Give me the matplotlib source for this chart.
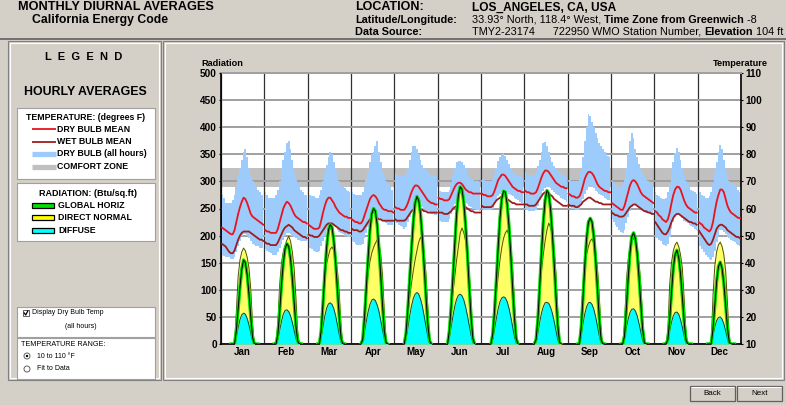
import numpy as np
import matplotlib
matplotlib.use("Agg")
import matplotlib.pyplot as plt
from matplotlib.patches import Rectangle, Ellipse
from matplotlib.lines import Line2D

plt.rcParams['font.family'] = ['Liberation Sans', 'DejaVu Sans']

# ---- data ----
months = ["Jan", "Feb", "Mar", "Apr", "May", "Jun",
          "Jul", "Aug", "Sep", "Oct", "Nov", "Dec"]
hours = np.arange(24)

# hourly dry bulb mean, deg F
dry_bulb_mean = [
    [53, 52.5, 52, 51.5, 51, 50.5, 50.5, 52, 55, 58, 60.5, 62.5, 64, 63.5, 62, 60, 58, 57, 56.5, 56, 55.5, 55, 54.5, 54],
    [52, 51.5, 51.5, 51, 51, 51, 51, 52.5, 55, 57.5, 60, 61.5, 62.5, 62, 61, 59.5, 58, 57, 56.5, 56, 55.5, 55, 55, 54.5],
    [54, 53.5, 53, 52.5, 52.5, 52.5, 53, 55.5, 58.5, 61, 63, 64, 64, 63, 62, 60.5, 59.5, 58.5, 58, 57.5, 57, 57, 56.5, 56.5],
    [56, 55.5, 55, 55, 54.5, 54.5, 55.5, 57.5, 59.5, 61.5, 63.5, 64.5, 65, 64.5, 63.5, 62, 61, 60, 59.5, 59.5, 59, 59, 59, 58.5],
    [60.5, 60, 60, 59.5, 59.5, 59.5, 60.5, 62, 64, 66, 67.5, 68.5, 68.5, 68, 67, 66, 65, 64, 63, 62.5, 62, 62, 61.5, 61.5],
    [64, 63.5, 63.5, 63, 63, 63, 63.5, 65, 66.5, 68, 69, 69.5, 69.5, 69, 68, 67, 66.5, 66, 66, 65.5, 65.5, 65.5, 65.5, 65.5],
    [65.5, 65, 65, 64.5, 64.5, 64.5, 65, 66.5, 68.5, 70.5, 71.5, 72.5, 72.5, 72, 71, 70, 69, 68, 67.5, 67, 66.5, 66.5, 66, 66],
    [66.5, 66, 66, 65.5, 65.5, 65.5, 66, 67.5, 69.5, 71.5, 73, 74, 74, 73.5, 72.5, 71.5, 70.5, 69.5, 69, 68.5, 68, 68, 67.5, 67.5],
    [65.5, 65, 64.5, 64.5, 64, 64, 64.5, 66, 68.5, 71, 72.5, 73.5, 73.5, 73, 72, 70.5, 69, 68, 67.5, 67, 66.5, 66.5, 66, 66],
    [62, 61.5, 61, 60.5, 60, 59.5, 59.5, 61, 63.5, 66, 68.5, 70, 70.5, 70, 69, 67.5, 66, 65, 64.5, 64, 63.5, 63, 62.5, 62],
    [59, 58.5, 57.5, 57, 56, 55.5, 55, 56, 58.5, 62, 65, 67, 68, 68, 67, 65, 63, 61.5, 60.5, 60, 59.5, 59, 58.5, 58.5],
    [55, 54.5, 54, 53, 52.5, 52, 51.5, 52.5, 55, 59, 62.5, 65, 67, 67, 66, 63.5, 61, 59.5, 58.5, 58, 57.5, 57, 56.5, 56.5],
]

# hourly wet bulb mean, deg F
wet_bulb_mean = [
    [47, 46.5, 46, 45, 44, 43.5, 43.5, 44.5, 46.5, 48.5, 50, 51, 51.5, 51.5, 51.5, 51.5, 51, 50.5, 50, 49.5, 49, 48.5, 48.5, 48],
    [47.5, 47, 47, 46.5, 46.5, 46.5, 46.5, 47.5, 49, 50.5, 52, 53, 53.5, 54, 53.5, 53, 52, 51.5, 51, 50.5, 50, 49.5, 49.5, 49],
    [50.5, 50, 50, 49.5, 49.5, 49.5, 50, 51, 52, 53, 54, 54.5, 54.5, 54.5, 54, 53.5, 53, 52.5, 52, 52, 51.5, 51.5, 51, 51],
    [52.5, 52, 52, 52, 51.5, 51.5, 52, 53, 54, 55, 56, 56.5, 56.5, 56.5, 56.5, 56, 56, 55.5, 55.5, 55.5, 55.5, 55.5, 55.5, 55.5],
    [56, 55.5, 55.5, 55.5, 55.5, 55.5, 56, 57, 58, 59, 59.5, 60, 60, 60, 59.5, 59.5, 59, 59, 58.5, 58.5, 58.5, 58.5, 58.5, 58.5],
    [58.5, 58.5, 58.5, 58, 58, 58, 58.5, 59, 60, 60.5, 61, 61.5, 61.5, 61.5, 61, 60.5, 60, 59.5, 59, 59, 58.5, 58.5, 58.5, 58.5],
    [61, 60.5, 60.5, 60.5, 60.5, 60.5, 61, 62, 63, 63.5, 64, 64.5, 64.5, 64, 63.5, 63, 62.5, 62, 62, 61.5, 61.5, 61.5, 61.5, 61.5],
    [61.5, 61.5, 61, 61, 61, 61, 61.5, 62.5, 63.5, 64.5, 65.5, 66, 66, 65.5, 65, 64.5, 63.5, 63, 62.5, 62, 61.5, 61, 61, 61],
    [61.5, 61, 61, 61, 60.5, 60.5, 61, 61.5, 62.5, 63, 63.5, 64, 64, 63.5, 63, 62.5, 62.5, 62, 62, 61.5, 61.5, 61.5, 61.5, 61.5],
    [58.5, 58, 57.5, 57.5, 57, 57, 57, 57.5, 58.5, 59.5, 60.5, 61, 61.5, 61.5, 61, 60.5, 60, 59.5, 59, 59, 58.5, 58.5, 58, 58],
    [55, 54, 53, 52, 51, 50.5, 50.5, 51.5, 53, 55, 56.5, 57.5, 58, 58, 57.5, 57, 56.5, 56, 55.5, 55, 55, 54.5, 54.5, 54],
    [52, 51, 50, 49, 48, 47, 46.5, 47, 48.5, 50.5, 52.5, 53.5, 54, 54, 53.5, 53, 52, 51.5, 51, 50.5, 50, 49.5, 49.5, 49],
]

# hourly dry bulb extremes over all hours of the month, deg F
dry_bulb_max = [
    [65, 64, 62, 62, 62, 62, 63, 65, 68, 72, 75, 78, 81, 82, 79, 75, 72, 70, 69, 68, 67, 66, 65, 64],
    [66, 65, 64, 64, 64, 64, 65, 67, 70, 74, 78, 81, 84, 85, 82, 78, 74, 71, 69, 68, 67, 66, 65, 65],
    [66, 65, 64.5, 64.5, 64, 64, 65, 67, 70, 73, 76, 79, 81, 80, 77, 74, 72, 70, 68.5, 68, 67.5, 67, 66.5, 66],
    [66, 65.5, 65, 65, 65, 65, 66, 68, 71, 74, 77, 80, 81, 83, 85, 81, 77, 74, 72, 70, 69, 68, 67, 66.5],
    [73, 72.5, 72, 72, 72, 72, 73, 75, 78, 81, 83, 83, 82, 80, 78, 76, 75, 74, 73.5, 73, 72.5, 72, 72, 71.5],
    [67, 66.5, 66, 66, 66, 66, 67, 69, 72, 75, 77, 77.5, 77.5, 77, 76, 75, 73.5, 72, 71, 70.5, 70, 70, 70, 69.5],
    [71, 70.5, 70, 70, 70, 70, 71, 73, 75, 77.5, 79, 80, 80.5, 79.5, 78, 76.5, 75, 74, 73, 72.5, 72, 72, 71.5, 71.5],
    [73.5, 73, 72.5, 72.5, 72.5, 72.5, 73.5, 75.5, 78, 81, 84, 84.5, 83, 81, 79, 77, 75.5, 74.5, 74, 73.5, 73, 72.5, 72, 71.5],
    [71, 70.5, 70, 70, 70, 70, 71, 74, 79, 85, 90, 95, 94, 92, 90, 88, 86, 84, 83, 82, 81, 80, 79.5, 79],
    [70, 69.5, 69, 68.5, 68, 68, 69, 71, 75, 80, 85, 88, 86, 82, 79, 76.5, 74.5, 73, 72, 71, 70, 69, 68.5, 68],
    [66, 65, 64.5, 64, 63.5, 63.5, 64, 66, 69, 73, 77, 80.5, 82.5, 81, 78, 75, 72, 70, 69, 68, 67, 66.5, 66, 65.5],
    [67, 66, 65, 64.5, 64, 64, 64.5, 66, 69, 73, 77, 81, 83.5, 82, 78, 74, 71, 70, 69.5, 69, 68.5, 68, 67, 66],
]
dry_bulb_min = [
    [43, 42.5, 42, 42, 42, 41.5, 41.5, 42, 44, 46, 48, 50, 50.5, 50.5, 50, 49, 48, 47, 46.5, 46, 46, 45.5, 45.5, 45.5],
    [45, 44.5, 44, 43.5, 43, 43, 43, 44, 45.5, 47, 48.5, 50, 51, 51, 50.5, 50, 49.5, 49, 48.5, 48.5, 48, 48, 48, 48],
    [46, 45.5, 45, 44.5, 44, 44, 44.5, 46, 48, 50, 52, 53, 54, 54, 53.5, 53, 52, 51.5, 51, 50.5, 50, 50, 49.5, 49.5],
    [48, 47.5, 47, 46.5, 46.5, 46.5, 47, 49, 51, 53, 55, 56, 57, 57, 57, 56.5, 56, 55.5, 55, 54.5, 54, 54, 54, 53.5],
    [55, 54.5, 54, 53.5, 53, 52.5, 53, 55, 57, 59, 60, 61, 61.5, 61.5, 61, 60.5, 60, 59.5, 59, 58.5, 58, 58, 57.5, 57.5],
    [56, 55.5, 55, 55, 55, 55, 56, 58, 60, 61.5, 62.5, 63, 63, 63, 62.5, 62, 61.5, 61, 60.5, 60, 60, 59.5, 59.5, 59],
    [60, 59.5, 59.5, 59.5, 59.5, 59.5, 60, 61.5, 63, 64.5, 65.5, 66, 66.5, 66.5, 66, 65.5, 65, 64.5, 64, 63.5, 63, 62.5, 62, 62],
    [60, 59.5, 59, 59, 59, 59, 59.5, 61, 63, 65, 66.5, 67.5, 68, 68, 67.5, 67, 66, 65.5, 65, 64.5, 64, 63.5, 63, 62.5],
    [61, 60.5, 60, 60, 59.5, 59.5, 60, 61.5, 63.5, 65.5, 67, 68, 68.5, 68, 67.5, 66.5, 66, 65.5, 65, 64.5, 64, 63.5, 63, 63],
    [56, 55, 54, 53, 52, 51.5, 51, 52, 54.5, 57, 59, 60.5, 61.5, 61.5, 61, 60.5, 60, 59.5, 59, 58.5, 58.5, 58, 58, 57.5],
    [50, 49, 48.5, 48, 47, 46.5, 46, 47, 49.5, 52.5, 55, 57, 58, 58, 57.5, 56.5, 55.5, 55, 54.5, 54, 53.5, 53, 52.5, 52],
    [47, 46, 45, 44, 43, 42, 41.5, 41, 42, 44.5, 47.5, 50, 52, 52, 51.5, 50.5, 49.5, 49, 48.5, 48, 47.5, 47, 46.5, 46],
]

comfort_low, comfort_high = 68, 75

# radiation, Btu/sq.ft, hours 5..20 (zero outside)
rad_hours = np.arange(5, 21)
global_horiz = [
    [0, 0, 0, 25, 65, 105, 138, 155, 150, 128, 92, 50, 12, 0, 0, 0],
    [0, 0, 18, 60, 110, 150, 176, 185, 180, 158, 122, 78, 33, 5, 0, 0],
    [0, 0, 25, 75, 130, 178, 210, 220, 215, 190, 150, 100, 50, 10, 0, 0],
    [0, 8, 50, 105, 160, 210, 240, 250, 245, 220, 175, 125, 70, 22, 2, 0],
    [0, 20, 65, 120, 175, 225, 260, 272, 265, 240, 198, 145, 90, 38, 6, 0],
    [0, 25, 70, 125, 185, 240, 275, 290, 285, 260, 218, 165, 105, 50, 10, 0],
    [0, 18, 60, 118, 178, 232, 268, 282, 280, 258, 218, 165, 105, 50, 10, 0],
    [0, 8, 45, 105, 168, 225, 265, 283, 278, 250, 205, 150, 90, 35, 3, 0],
    [0, 0, 30, 85, 145, 195, 225, 232, 225, 198, 155, 102, 48, 8, 0, 0],
    [0, 0, 15, 65, 120, 168, 198, 205, 195, 168, 125, 75, 28, 2, 0, 0],
    [0, 0, 8, 45, 95, 140, 165, 173, 160, 130, 88, 42, 8, 0, 0, 0],
    [0, 0, 0, 28, 72, 115, 143, 151, 140, 112, 72, 30, 3, 0, 0, 0],
]
direct_normal = [
    [0, 0, 0, 60, 125, 155, 170, 177, 172, 160, 140, 100, 35, 0, 0, 0],
    [0, 0, 40, 110, 150, 170, 182, 192, 199, 190, 170, 140, 85, 20, 0, 0],
    [0, 0, 35, 90, 125, 148, 163, 175, 179, 172, 160, 135, 95, 30, 0, 0],
    [0, 15, 60, 100, 130, 152, 168, 178, 186, 192, 185, 165, 125, 55, 5, 0],
    [0, 20, 55, 85, 112, 135, 155, 172, 188, 197, 190, 170, 130, 70, 10, 0],
    [0, 25, 60, 95, 125, 155, 180, 205, 214, 205, 190, 168, 130, 75, 15, 0],
    [0, 15, 50, 90, 125, 155, 178, 195, 205, 210, 200, 180, 140, 80, 15, 0],
    [0, 5, 45, 95, 135, 165, 190, 210, 223, 215, 200, 175, 130, 60, 5, 0],
    [0, 0, 50, 110, 145, 165, 180, 190, 194, 185, 170, 140, 90, 20, 0, 0],
    [0, 0, 35, 115, 155, 178, 190, 195, 188, 175, 150, 110, 45, 3, 0, 0],
    [0, 0, 25, 110, 150, 172, 183, 188, 180, 165, 140, 85, 20, 0, 0, 0],
    [0, 0, 0, 90, 145, 170, 183, 188, 180, 165, 135, 75, 10, 0, 0, 0],
]
diffuse = [
    [0, 0, 0, 12, 30, 45, 54, 57, 55, 47, 35, 20, 5, 0, 0, 0],
    [0, 0, 8, 25, 42, 55, 62, 63, 60, 52, 40, 25, 10, 2, 0, 0],
    [0, 0, 12, 32, 52, 66, 74, 76, 73, 65, 52, 35, 17, 4, 0, 0],
    [0, 5, 22, 42, 60, 73, 81, 83, 80, 72, 60, 43, 25, 9, 1, 0],
    [0, 10, 30, 52, 70, 84, 92, 95, 92, 83, 70, 52, 33, 14, 2, 0],
    [0, 12, 32, 52, 70, 83, 90, 92, 89, 81, 68, 52, 34, 16, 3, 0],
    [0, 8, 27, 47, 65, 78, 85, 87, 85, 78, 66, 50, 32, 14, 2, 0],
    [0, 3, 20, 40, 57, 69, 76, 77, 75, 68, 57, 42, 25, 8, 0, 0],
    [0, 0, 15, 38, 56, 69, 76, 77, 73, 64, 50, 33, 15, 3, 0, 0],
    [0, 0, 10, 30, 46, 58, 64, 65, 61, 52, 38, 22, 7, 0, 0, 0],
    [0, 0, 6, 24, 40, 52, 58, 59, 55, 45, 31, 15, 3, 0, 0, 0],
    [0, 0, 0, 15, 32, 43, 49, 50, 46, 37, 24, 10, 1, 0, 0, 0],
]

temp_ticks = list(range(10, 111, 10))
rad_ticks = list(range(0, 501, 50))

# ---- colours ----
BG = '#D4D0C8'
BLUE = '#9DCBFB'
COMFORT = '#C0C0C0'
RED = '#E8141E'
DARKRED = '#A01C1C'
GREEN = '#00DD00'
YELLOW = '#FFFF66'
CYAN = '#00FFFF'

W, H = 786, 405
fig = plt.figure(figsize=(W / 100, H / 100), dpi=100)
fig.patch.set_facecolor(BG)


def fx(x):
    return x / W


def fy(y):
    return 1 - y / H


def rect(x0, y0, x1, y1, fc='none', ec='none', lw=0.8):
    fig.add_artist(Rectangle((fx(x0), fy(y1)), (x1 - x0) / W, (y1 - y0) / H,
                             transform=fig.transFigure, facecolor=fc,
                             edgecolor=ec, lw=lw))


def seg(x0, y0, x1, y1, color, lw):
    fig.add_artist(Line2D([fx(x0), fx(x1)], [fy(y0), fy(y1)],
                          transform=fig.transFigure, color=color, lw=lw,
                          solid_capstyle='butt'))


def label(x, y, s, size=6, bold=True, ha='left', color='black'):
    return fig.text(fx(x), fy(y), s, size=size, ha=ha, va='center',
                    weight='bold' if bold else 'normal', color=color)


def rich(x, y, parts, size):
    # pieces of one line with mixed weights
    r = fig.canvas.get_renderer()
    for s, b in parts:
        t = label(x, y, s, size, b)
        x = t.get_window_extent(r).x1


# ---- header ----
label(18, 7.5, "MONTHLY DIURNAL AVERAGES", 9.2)
label(32, 20, "California Energy Code", 8.8)
label(355, 7.5, "LOCATION:", 9)
label(472, 7.5, "LOS_ANGELES, CA, USA", 8.6)
label(355, 20, "Latitude/Longitude:", 7.8)
rich(472, 20, [("33.93° North, 118.4° West, ", False),
               ("Time Zone from Greenwich", True), (" -8", False)], 7.8)
label(355, 32, "Data Source:", 7.8)
rich(472, 32, [("TMY2-23174      722950 WMO Station Number, ", False),
               ("Elevation", True), (" 104 ft", False)], 7.8)
seg(0, 39, W, 39, '#707070', 1.4)

# ---- panels ----
rect(8, 41, 161, 380, ec='#808080')
rect(10, 43, 159, 378, ec='white')
rect(163, 41, 784, 380, ec='#808080')
rect(165, 43, 782, 378, ec='white')

# ---- legend panel ----
label(84, 57, "L  E  G  E  N  D", 8, ha='center')
label(85, 92, "HOURLY AVERAGES", 8.9, ha='center')
rect(17, 108, 155, 179, fc='white', ec='#A0A0A0')
label(86, 117, "TEMPERATURE: (degrees F)", 6.3, ha='center')
temp_legend = [("DRY BULB MEAN", RED, 1.3), ("WET BULB MEAN", DARKRED, 1.3),
               ("DRY BULB (all hours)", BLUE, 3.8), ("COMFORT ZONE", COMFORT, 3.8)]
for i, (name, col, lw) in enumerate(temp_legend):
    yy = 129 + i * 12.5
    seg(32, yy, 56, yy, col, lw)
    label(57, yy, name, 6.3)
rect(17, 183, 155, 241, fc='white', ec='#A0A0A0')
label(88, 194, "RADIATION: (Btu/sq.ft)", 6.5, ha='center')
rad_legend = [("GLOBAL HORIZ", '#00E000'), ("DIRECT NORMAL", '#FFFF00'),
              ("DIFFUSE", CYAN)]
for i, (name, col) in enumerate(rad_legend):
    yy = 205.5 + i * 12.3
    rect(32, yy - 2.5, 54, yy + 2.5, fc=col, ec='black', lw=0.9)
    label(58, yy, name, 6.3)

rect(17, 307, 155, 337, fc='white', ec='#A0A0A0')
rect(23, 310, 29, 316, fc='white', ec='#606060', lw=0.7)
fig.add_artist(Line2D([fx(24.2), fx(25.7), fx(27.8)], [fy(313), fy(315), fy(311)],
                      transform=fig.transFigure, color='black', lw=0.9))
label(32, 313, "Display Dry Bulb Temp", 5, bold=False)
label(81, 326, "(all hours)", 5, bold=False, ha='center')
rect(17, 338, 155, 379, fc='white', ec='#A0A0A0')
label(21, 344, "TEMPERATURE RANGE:", 5.2, bold=False)
for yy, txt, on in [(356, "10 to 110 °F", True), (369, "Fit to Data", False)]:
    fig.add_artist(Ellipse((fx(27), fy(yy)), 6 / W, 6 / H, transform=fig.transFigure,
                           facecolor='white', edgecolor='#606060', lw=0.7))
    if on:
        fig.add_artist(Ellipse((fx(27), fy(yy)), 2.4 / W, 2.4 / H,
                               transform=fig.transFigure, facecolor='black'))
    label(37, yy, txt, 5, bold=False)

# ---- buttons ----
for x0, txt in [(690, "Back"), (737, "Next")]:
    rect(x0, 386, x0 + 45, 401, fc=BG, ec='#606060', lw=0.9)
    seg(x0 + 1, 387, x0 + 44, 387, 'white', 0.8)
    label(x0 + 22.5, 393.5, txt, 5.8, bold=False, ha='center')

# ---- chart ----
box = [fx(221), fy(344), 520 / W, 271 / H]
ax_t = fig.add_axes(box)
ax_t.set_facecolor('white')
ax_t.set_xlim(0, 288)
ax_t.set_ylim(10, 110)
ax_t.set_axisbelow(True)
ax_t.axhspan(comfort_low, comfort_high, color=COMFORT, lw=0, zorder=0.2)

for m in range(12):
    x = m * 24 + hours + 0.5
    ax_t.fill_between(x, dry_bulb_min[m], dry_bulb_max[m], step='mid',
                      color=BLUE, lw=0, zorder=2)
for m in range(12):
    x = m * 24 + hours + 0.5
    ax_t.plot(x, wet_bulb_mean[m], color=DARKRED, lw=1.3, zorder=3)
    ax_t.plot(x, dry_bulb_mean[m], color=RED, lw=1.3, zorder=3)

ax_t.yaxis.tick_right()
ax_t.set_yticks(temp_ticks, labels=[str(t) for t in temp_ticks],
                fontweight='bold', fontsize=7.2)
ax_t.tick_params(axis='y', length=1.5, pad=1.5, width=0.8)
ax_t.set_xticks(np.arange(0, 289, 24), labels=[])
ax_t.set_xticks(np.arange(12, 288, 24), labels=months, minor=True,
                fontweight='bold', fontsize=7)
ax_t.tick_params(axis='x', which='both', length=0)
ax_t.tick_params(axis='x', which='minor', pad=2)
ax_t.grid(axis='y', color='#A0A0A0', lw=1.4)
ax_t.grid(axis='x', which='major', color='#303030', lw=0.9)
for side in ['left', 'right', 'bottom']:
    ax_t.spines[side].set_color('black')
    ax_t.spines[side].set_linewidth(1.2)
ax_t.spines['top'].set_color('#A0A0A0')
ax_t.spines['top'].set_linewidth(1.4)

ax_r = fig.add_axes(box)
ax_r.patch.set_visible(False)
ax_r.set_xlim(0, 288)
ax_r.set_ylim(0, 500)
for s in ax_r.spines.values():
    s.set_visible(False)
ax_r.set_xticks([])
ax_r.set_yticks(rad_ticks, labels=[str(t) for t in rad_ticks],
                fontweight='bold', fontsize=7.2)
ax_r.tick_params(axis='y', length=1.5, pad=1.5, width=0.8)

for m in range(12):
    x = m * 24 + rad_hours + 0.5
    ax_r.fill_between(x, global_horiz[m], color=YELLOW, lw=0, zorder=2)
    ax_r.fill_between(x, direct_normal[m], color=YELLOW, lw=0, zorder=2)
    ax_r.plot(x, direct_normal[m], color='#505000', lw=0.7, zorder=3)
    ax_r.fill_between(x, diffuse[m], color=CYAN, lw=0, zorder=4)
    ax_r.plot(x, diffuse[m], color='#104040', lw=0.7, zorder=4)
    ax_r.plot(x, global_horiz[m], color=GREEN, lw=2.4, zorder=5)
    ax_r.plot(x, global_horiz[m], color='black', lw=0.7, zorder=6)

fig.text(fx(201), fy(63), "Radiation", size=6.6, weight='bold', va='center')
fig.text(fx(713), fy(63), "Temperature", size=6.6, weight='bold', va='center')

fig.savefig("out.png", dpi=100, facecolor=BG)
